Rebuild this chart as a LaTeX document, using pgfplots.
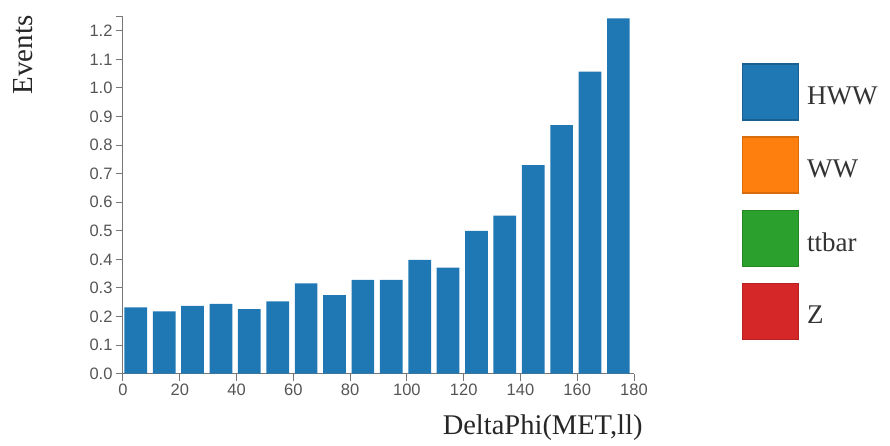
\documentclass[border=0pt]{standalone}
\usepackage{fontspec}
\setmainfont{Liberation Serif}
\newfontfamily\arial{Liberation Sans}
\usepackage{pgfplots}
\pgfplotsset{compat=1.18}
\definecolor{hww}{HTML}{1F77B4}
\definecolor{ww}{HTML}{FF7F0E}
\definecolor{ttb}{HTML}{2CA02C}
\definecolor{zz}{HTML}{D62728}
\definecolor{tickgrey}{HTML}{555555}
\definecolor{axgrey}{HTML}{777777}
\begin{document}
\begin{tikzpicture}
\useasboundingbox (-123pt,-71.3pt) rectangle (767pt,373.7pt);
\begin{axis}[
  at={(0,0)}, anchor=south west,
  scale only axis, width=511pt, height=357.2pt,
  xmin=0, xmax=180, ymin=0, ymax=1.25,
  axis x line*=bottom, axis y line*=left,
  axis line style={axgrey, line width=1pt},
  xtick={0,20,...,180},
  ytick={0,0.1,...,1.21},
  extra y ticks={1.25}, extra y tick labels={},
  yticklabel style={/pgf/number format/.cd, fixed, fixed zerofill, precision=1},
  /pgf/number format/assume math mode=true,
  tick label style={font=\arial\fontsize{16.5}{18}\selectfont, text=tickgrey},
  tick align=outside, major tick length=7pt,
  tick style={axgrey, line width=1pt},
  ylabel={Events},
  ylabel style={at={(axis description cs:-0.196,0.892)}, anchor=center, font=\fontsize{29}{32}\selectfont, text=black!85},
  xlabel={DeltaPhi(MET,ll)},
  xlabel style={at={(axis description cs:1.0235,-0.151)}, anchor=east, font=\fontsize{28.5}{31}\selectfont, text=black!85},
  ybar, bar width=8,
  legend cell align=left,
  legend style={at={(axis description cs:1.2108,0.869)}, anchor=north west, draw=none, fill=none,
    inner sep=0pt, outer sep=0pt, row sep=15.7pt, column sep=6pt,
    font=\fontsize{27}{30}\selectfont, text=black!80},
  legend image code/.code={\draw[#1, line width=1.5pt] (0pt,-24pt) rectangle (56pt,32pt);},
]
\addplot[fill=hww, draw=none, area legend, legend image code/.code={\draw[fill=hww, draw=hww!80!black, line width=1.5pt] (0pt,-24pt) rectangle (56pt,32pt);}] coordinates {
(4.5,0.232) (14.5,0.218) (24.5,0.237) (34.5,0.244) (44.5,0.226) (54.5,0.253)
(64.5,0.316) (74.5,0.275) (84.5,0.328) (94.5,0.328) (104.5,0.398) (114.5,0.371)
(124.5,0.500) (134.5,0.553) (144.5,0.730) (154.5,0.870) (164.5,1.057) (174.5,1.243)
};
\addlegendentry{HWW}
\addlegendimage{fill=ww, draw=ww!85!black}
\addlegendentry{WW}
\addlegendimage{fill=ttb, draw=ttb!85!black}
\addlegendentry{ttbar}
\addlegendimage{fill=zz, draw=zz!85!black}
\addlegendentry{Z}
\end{axis}
\end{tikzpicture}
\end{document}
